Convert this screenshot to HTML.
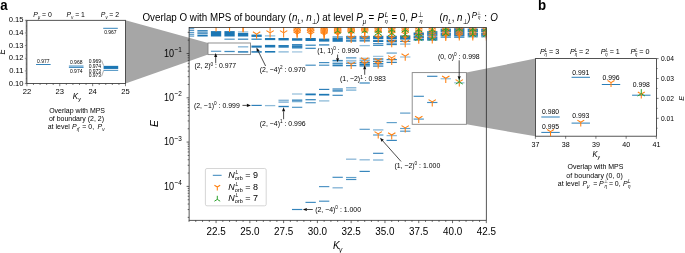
<!DOCTYPE html><html><head><meta charset="utf-8"><style>html,body{margin:0;padding:0;background:#fff}svg{display:block}</style></head><body><svg width="685" height="253" viewBox="0 0 685 253" font-family="Liberation Sans, sans-serif" fill="#000">
<rect width="685" height="253" fill="#fff"/>
<defs><filter id="soft" x="0" y="0" width="685" height="253" filterUnits="userSpaceOnUse"><feGaussianBlur stdDeviation="0.3"/></filter></defs>
<g filter="url(#soft)">
<polygon points="125.5,20.3 208.0,43.0 208.0,54.6 125.5,83.6" fill="#a6a6a6"/>
<polygon points="466.4,72.6 535.4,58.6 535.4,136.2 466.4,124.3" fill="#a6a6a6"/>
<defs><clipPath id="cm"><rect x="189.1" y="27.4" width="297.20000000000005" height="192.9"/></clipPath></defs>
<g clip-path="url(#cm)">
<rect x="183.87" y="28.12" width="10.3" height="1.15" fill="#1f77b4" opacity="0.75"/>
<rect x="183.87" y="29.93" width="10.3" height="1.15" fill="#1f77b4" opacity="0.75"/>
<rect x="183.87" y="31.93" width="10.3" height="1.15" fill="#1f77b4" opacity="0.75"/>
<rect x="183.87" y="33.72" width="10.3" height="1.15" fill="#1f77b4" opacity="0.75"/>
<rect x="183.87" y="35.52" width="10.3" height="1.15" fill="#1f77b4" opacity="0.75"/>
<rect x="197.39" y="30.15" width="10.3" height="1.3" fill="#1f77b4" opacity="1.0"/>
<rect x="197.39" y="32.45" width="10.3" height="1.3" fill="#1f77b4" opacity="1.0"/>
<rect x="197.39" y="34.90" width="10.3" height="1.6" fill="#1f77b4" opacity="1.0"/>
<rect x="197.39" y="31.38" width="10.3" height="1.25" fill="#1f77b4" opacity="0.3"/>
<rect x="197.39" y="33.77" width="10.3" height="1.25" fill="#1f77b4" opacity="0.3"/>
<rect x="210.90" y="31.10" width="10.3" height="5.399999999999999" fill="#1f77b4" opacity="1.0"/>
<rect x="224.41" y="31.10" width="10.3" height="5.399999999999999" fill="#1f77b4" opacity="1.0"/>
<rect x="224.41" y="38.58" width="10.3" height="1.25" fill="#1f77b4" opacity="0.75"/>
<rect x="237.93" y="31.32" width="10.3" height="1.15" fill="#1f77b4" opacity="0.5"/>
<rect x="237.93" y="32.90" width="10.3" height="3.6000000000000014" fill="#1f77b4" opacity="1.0"/>
<rect x="237.93" y="38.58" width="10.3" height="1.25" fill="#1f77b4" opacity="0.9"/>
<rect x="251.44" y="34.60" width="10.3" height="2.299999999999997" fill="#1f77b4" opacity="1.0"/>
<rect x="251.44" y="38.53" width="10.3" height="1.35" fill="#1f77b4" opacity="0.85"/>
<rect x="264.95" y="35.27" width="10.3" height="1.25" fill="#1f77b4" opacity="0.5"/>
<rect x="264.95" y="38.00" width="10.3" height="2.1000000000000014" fill="#1f77b4" opacity="1.0"/>
<rect x="278.47" y="38.00" width="10.3" height="2.3999999999999986" fill="#1f77b4" opacity="1.0"/>
<rect x="291.98" y="38.20" width="10.3" height="2.5" fill="#1f77b4" opacity="1.0"/>
<rect x="305.49" y="38.00" width="10.3" height="3.0" fill="#1f77b4" opacity="1.0"/>
<rect x="319.00" y="38.60" width="10.3" height="3.0" fill="#1f77b4" opacity="1.0"/>
<rect x="332.52" y="36.00" width="10.3" height="2.0" fill="#1f77b4" opacity="0.55"/>
<rect x="332.52" y="38.00" width="10.3" height="3.799999999999997" fill="#1f77b4" opacity="1.0"/>
<rect x="346.03" y="35.90" width="10.3" height="3.549999999999997" fill="#1f77b4" opacity="0.85"/>
<rect x="346.03" y="39.95" width="10.3" height="1.8500000000000014" fill="#1f77b4" opacity="0.85"/>
<rect x="359.54" y="35.90" width="10.3" height="3.549999999999997" fill="#1f77b4" opacity="0.85"/>
<rect x="359.54" y="39.95" width="10.3" height="1.6500000000000057" fill="#1f77b4" opacity="0.85"/>
<rect x="359.54" y="44.98" width="10.3" height="1.25" fill="#1f77b4" opacity="0.5"/>
<rect x="373.06" y="35.80" width="10.3" height="3.4000000000000057" fill="#1f77b4" opacity="1.0"/>
<rect x="373.06" y="40.10" width="10.3" height="1.8999999999999986" fill="#1f77b4" opacity="1.0"/>
<rect x="373.06" y="43.12" width="10.3" height="1.15" fill="#1f77b4" opacity="0.9"/>
<rect x="373.06" y="44.82" width="10.3" height="1.15" fill="#1f77b4" opacity="0.85"/>
<rect x="386.57" y="35.80" width="10.3" height="3.3000000000000043" fill="#1f77b4" opacity="1.0"/>
<rect x="386.57" y="39.70" width="10.3" height="2.299999999999997" fill="#1f77b4" opacity="1.0"/>
<rect x="386.57" y="42.58" width="10.3" height="1.05" fill="#1f77b4" opacity="0.8"/>
<rect x="386.57" y="43.88" width="10.3" height="1.25" fill="#1f77b4" opacity="0.9"/>
<rect x="400.08" y="35.40" width="10.3" height="4.200000000000003" fill="#1f77b4" opacity="1.0"/>
<rect x="400.08" y="40.77" width="10.3" height="1.25" fill="#1f77b4" opacity="0.9"/>
<rect x="400.08" y="43.35" width="10.3" height="1.5" fill="#1f77b4" opacity="0.45"/>
<rect x="413.60" y="32.50" width="10.3" height="3.1000000000000014" fill="#1f77b4" opacity="1.0"/>
<rect x="413.60" y="36.10" width="10.3" height="1.8999999999999986" fill="#1f77b4" opacity="1.0"/>
<rect x="413.60" y="38.50" width="10.3" height="2.1000000000000014" fill="#1f77b4" opacity="1.0"/>
<rect x="427.11" y="31.10" width="10.3" height="4.799999999999997" fill="#1f77b4" opacity="0.9"/>
<rect x="427.11" y="36.40" width="10.3" height="4.300000000000004" fill="#1f77b4" opacity="0.9"/>
<rect x="440.62" y="28.60" width="10.3" height="3.549999999999997" fill="#1f77b4" opacity="0.95"/>
<rect x="440.62" y="32.65" width="10.3" height="3.25" fill="#1f77b4" opacity="0.95"/>
<rect x="440.62" y="36.40" width="10.3" height="1.3000000000000043" fill="#1f77b4" opacity="0.95"/>
<rect x="454.13" y="28.10" width="10.3" height="8.549999999999997" fill="#1f77b4" opacity="0.95"/>
<rect x="454.13" y="37.02" width="10.3" height="0.8000000000000043" fill="#1f77b4" opacity="0.95"/>
<rect x="467.65" y="28.60" width="10.3" height="3.549999999999997" fill="#1f77b4" opacity="0.95"/>
<rect x="467.65" y="32.65" width="10.3" height="3.25" fill="#1f77b4" opacity="0.95"/>
<rect x="467.65" y="36.27" width="10.3" height="1.0500000000000043" fill="#1f77b4" opacity="0.95"/>
<rect x="481.16" y="28.60" width="10.3" height="3.549999999999997" fill="#1f77b4" opacity="0.95"/>
<rect x="481.16" y="32.65" width="10.3" height="3.25" fill="#1f77b4" opacity="0.95"/>
<rect x="481.16" y="36.27" width="10.3" height="1.0500000000000043" fill="#1f77b4" opacity="0.95"/>
<rect x="210.90" y="50.67" width="10.3" height="1.25" fill="#1f77b4" opacity="0.7"/>
<rect x="224.41" y="50.88" width="10.3" height="1.25" fill="#1f77b4" opacity="0.85"/>
<rect x="237.93" y="46.00" width="10.3" height="1.6" fill="#1f77b4" opacity="0.45"/>
<rect x="237.93" y="51.15" width="10.3" height="1.5" fill="#1f77b4" opacity="0.95"/>
<rect x="251.44" y="45.55" width="10.3" height="2.1" fill="#1f77b4" opacity="1.0"/>
<rect x="251.44" y="51.10" width="10.3" height="1.6" fill="#1f77b4" opacity="0.95"/>
<rect x="264.95" y="44.90" width="10.3" height="2.6" fill="#1f77b4" opacity="1.0"/>
<rect x="264.95" y="51.00" width="10.3" height="1.6" fill="#1f77b4" opacity="1.0"/>
<rect x="278.47" y="45.00" width="10.3" height="2.7" fill="#1f77b4" opacity="0.95"/>
<rect x="278.47" y="51.27" width="10.3" height="1.25" fill="#1f77b4" opacity="0.55"/>
<rect x="291.98" y="44.12" width="10.3" height="1.35" fill="#1f77b4" opacity="0.95"/>
<rect x="291.98" y="45.62" width="10.3" height="1.35" fill="#1f77b4" opacity="0.95"/>
<rect x="291.98" y="47.12" width="10.3" height="1.35" fill="#1f77b4" opacity="0.95"/>
<rect x="291.98" y="44.50" width="10.3" height="3.6" fill="#1f77b4" opacity="0.35"/>
<rect x="291.98" y="51.23" width="10.3" height="1.35" fill="#1f77b4" opacity="0.4"/>
<rect x="305.49" y="44.62" width="10.3" height="1.15" fill="#1f77b4" opacity="0.95"/>
<rect x="305.49" y="47.72" width="10.3" height="1.15" fill="#1f77b4" opacity="0.95"/>
<rect x="319.00" y="44.15" width="10.3" height="1.5" fill="#1f77b4" opacity="0.8"/>
<rect x="305.49" y="64.62" width="10.3" height="1.15" fill="#1f77b4" opacity="0.85"/>
<rect x="319.00" y="62.02" width="10.3" height="1.15" fill="#1f77b4" opacity="0.85"/>
<rect x="319.00" y="64.62" width="10.3" height="1.15" fill="#1f77b4" opacity="0.85"/>
<rect x="332.52" y="59.92" width="10.3" height="1.15" fill="#1f77b4" opacity="0.9"/>
<rect x="332.52" y="61.38" width="10.3" height="1.25" fill="#1f77b4" opacity="0.5"/>
<rect x="332.52" y="63.08" width="10.3" height="1.25" fill="#1f77b4" opacity="0.9"/>
<rect x="332.52" y="64.70" width="10.3" height="1.6" fill="#1f77b4" opacity="0.95"/>
<rect x="346.03" y="57.32" width="10.3" height="1.15" fill="#1f77b4" opacity="0.85"/>
<rect x="346.03" y="59.90" width="10.3" height="1.8" fill="#1f77b4" opacity="0.45"/>
<rect x="346.03" y="62.58" width="10.3" height="1.25" fill="#1f77b4" opacity="0.9"/>
<rect x="346.03" y="64.97" width="10.3" height="1.25" fill="#1f77b4" opacity="0.9"/>
<rect x="359.54" y="57.70" width="10.3" height="1.8" fill="#1f77b4" opacity="0.45"/>
<rect x="359.54" y="59.90" width="10.3" height="1.4" fill="#1f77b4" opacity="0.6"/>
<rect x="359.54" y="61.90" width="10.3" height="1.4" fill="#1f77b4" opacity="1.0"/>
<rect x="359.54" y="63.60" width="10.3" height="1.4" fill="#1f77b4" opacity="1.0"/>
<rect x="359.54" y="65.25" width="10.3" height="1.3" fill="#1f77b4" opacity="1.0"/>
<rect x="373.06" y="55.77" width="10.3" height="1.25" fill="#1f77b4" opacity="0.45"/>
<rect x="373.06" y="58.33" width="10.3" height="1.35" fill="#1f77b4" opacity="1.0"/>
<rect x="373.06" y="60.73" width="10.3" height="1.35" fill="#1f77b4" opacity="1.0"/>
<rect x="373.06" y="63.12" width="10.3" height="1.35" fill="#1f77b4" opacity="1.0"/>
<rect x="373.06" y="65.42" width="10.3" height="1.35" fill="#1f77b4" opacity="0.85"/>
<rect x="386.57" y="52.25" width="10.3" height="1.7" fill="#1f77b4" opacity="0.5"/>
<rect x="386.57" y="58.98" width="10.3" height="1.25" fill="#1f77b4" opacity="0.9"/>
<rect x="386.57" y="61.77" width="10.3" height="1.25" fill="#1f77b4" opacity="0.9"/>
<rect x="400.08" y="56.38" width="10.3" height="1.25" fill="#1f77b4" opacity="0.45"/>
<rect x="251.44" y="104.83" width="10.3" height="1.15" fill="#1f77b4" opacity="0.95"/>
<rect x="264.95" y="104.97" width="10.3" height="1.25" fill="#1f77b4" opacity="0.5"/>
<rect x="278.47" y="99.62" width="10.3" height="1.35" fill="#1f77b4" opacity="0.55"/>
<rect x="278.47" y="101.42" width="10.3" height="1.35" fill="#1f77b4" opacity="0.6"/>
<rect x="278.47" y="105.83" width="10.3" height="1.35" fill="#1f77b4" opacity="0.95"/>
<rect x="291.98" y="93.35" width="10.3" height="1.3" fill="#1f77b4" opacity="0.45"/>
<rect x="291.98" y="99.45" width="10.3" height="1.5" fill="#1f77b4" opacity="0.8"/>
<rect x="291.98" y="100.95" width="10.3" height="1.3" fill="#1f77b4" opacity="0.6"/>
<rect x="291.98" y="106.72" width="10.3" height="1.15" fill="#1f77b4" opacity="0.8"/>
<rect x="305.49" y="93.50" width="10.3" height="1.8" fill="#1f77b4" opacity="1.0"/>
<rect x="305.49" y="99.08" width="10.3" height="1.25" fill="#1f77b4" opacity="0.9"/>
<rect x="305.49" y="102.08" width="10.3" height="1.25" fill="#1f77b4" opacity="0.75"/>
<rect x="319.00" y="88.83" width="10.3" height="1.15" fill="#1f77b4" opacity="0.95"/>
<rect x="319.00" y="93.85" width="10.3" height="1.7" fill="#1f77b4" opacity="1.0"/>
<rect x="319.00" y="100.25" width="10.3" height="1.3" fill="#1f77b4" opacity="0.5"/>
<rect x="332.52" y="88.08" width="10.3" height="1.45" fill="#1f77b4" opacity="0.6"/>
<rect x="332.52" y="89.48" width="10.3" height="1.45" fill="#1f77b4" opacity="0.75"/>
<rect x="332.52" y="90.78" width="10.3" height="1.25" fill="#1f77b4" opacity="0.6"/>
<rect x="332.52" y="94.72" width="10.3" height="1.15" fill="#1f77b4" opacity="0.9"/>
<rect x="346.03" y="87.17" width="10.3" height="1.25" fill="#1f77b4" opacity="0.6"/>
<rect x="346.03" y="89.47" width="10.3" height="1.25" fill="#1f77b4" opacity="0.6"/>
<rect x="359.54" y="82.42" width="10.3" height="1.15" fill="#1f77b4" opacity="0.95"/>
<rect x="291.98" y="208.93" width="10.3" height="1.15" fill="#1f77b4" opacity="0.9"/>
<rect x="305.49" y="201.83" width="10.3" height="1.15" fill="#1f77b4" opacity="0.85"/>
<rect x="319.00" y="200.62" width="10.3" height="1.15" fill="#1f77b4" opacity="0.85"/>
<rect x="319.00" y="186.03" width="10.3" height="1.15" fill="#1f77b4" opacity="0.8"/>
<rect x="332.52" y="176.73" width="10.3" height="1.15" fill="#1f77b4" opacity="0.85"/>
<rect x="332.52" y="187.12" width="10.3" height="1.35" fill="#1f77b4" opacity="0.55"/>
<rect x="346.03" y="176.93" width="10.3" height="1.15" fill="#1f77b4" opacity="0.7"/>
<rect x="346.03" y="178.93" width="10.3" height="1.15" fill="#1f77b4" opacity="0.85"/>
<rect x="346.03" y="158.52" width="10.3" height="1.35" fill="#1f77b4" opacity="0.5"/>
<rect x="359.54" y="170.83" width="10.3" height="1.15" fill="#1f77b4" opacity="0.9"/>
<rect x="359.54" y="159.12" width="10.3" height="1.35" fill="#1f77b4" opacity="0.5"/>
<rect x="359.54" y="128.73" width="10.3" height="1.15" fill="#1f77b4" opacity="0.75"/>
<rect x="373.06" y="152.73" width="10.3" height="1.15" fill="#1f77b4" opacity="0.9"/>
<rect x="373.06" y="159.28" width="10.3" height="1.45" fill="#1f77b4" opacity="0.5"/>
<rect x="373.06" y="129.28" width="10.3" height="1.25" fill="#1f77b4" opacity="0.55"/>
<rect x="373.06" y="134.43" width="10.3" height="1.15" fill="#1f77b4" opacity="0.75"/>
<rect x="386.57" y="122.02" width="10.3" height="1.15" fill="#1f77b4" opacity="0.7"/>
<rect x="386.57" y="134.97" width="10.3" height="1.25" fill="#1f77b4" opacity="0.5"/>
<rect x="386.57" y="139.83" width="10.3" height="1.15" fill="#1f77b4" opacity="0.9"/>
<rect x="400.08" y="112.52" width="10.3" height="1.15" fill="#1f77b4" opacity="0.75"/>
<rect x="400.08" y="127.92" width="10.3" height="1.15" fill="#1f77b4" opacity="0.7"/>
<rect x="400.08" y="130.62" width="10.3" height="1.15" fill="#1f77b4" opacity="0.8"/>
<rect x="413.60" y="95.72" width="10.3" height="1.15" fill="#1f77b4" opacity="0.85"/>
<rect x="413.60" y="118.52" width="10.3" height="1.15" fill="#1f77b4" opacity="0.8"/>
<rect x="427.11" y="75.72" width="10.3" height="1.15" fill="#1f77b4" opacity="0.9"/>
<rect x="427.11" y="101.92" width="10.3" height="1.15" fill="#1f77b4" opacity="0.85"/>
<rect x="440.62" y="78.08" width="10.3" height="1.25" fill="#1f77b4" opacity="0.45"/>
<rect x="454.13" y="82.17" width="10.3" height="1.25" fill="#1f77b4" opacity="0.45"/>
<path d="M216.05,27.00L216.05,31.60M216.05,27.00L219.73,24.70M216.05,27.00L212.37,24.70" stroke="#ff7f0e" stroke-width="1.05" fill="none" opacity="1.0"/>
<path d="M229.56,27.50L229.56,32.10M229.56,27.50L233.24,25.20M229.56,27.50L225.88,25.20" stroke="#ff7f0e" stroke-width="1.05" fill="none" opacity="1.0"/>
<path d="M243.08,27.60L243.08,32.20M243.08,27.60L246.76,25.30M243.08,27.60L239.40,25.30" stroke="#ff7f0e" stroke-width="1.05" fill="none" opacity="1.0"/>
<path d="M243.08,27.20L243.08,31.80M243.08,27.20L246.76,24.90M243.08,27.20L239.40,24.90" stroke="#ff7f0e" stroke-width="1.05" fill="none" opacity="1.0"/>
<path d="M256.59,34.10L256.59,38.70M256.59,34.10L260.27,31.80M256.59,34.10L252.91,31.80" stroke="#ff7f0e" stroke-width="1.05" fill="none" opacity="1.0"/>
<path d="M270.10,32.90L270.10,37.50M270.10,32.90L273.78,30.60M270.10,32.90L266.42,30.60" stroke="#ff7f0e" stroke-width="1.05" fill="none" opacity="1.0"/>
<path d="M270.10,27.20L270.10,31.80M270.10,27.20L273.78,24.90M270.10,27.20L266.42,24.90" stroke="#ff7f0e" stroke-width="1.05" fill="none" opacity="1.0"/>
<path d="M283.62,32.90L283.62,37.50M283.62,32.90L287.30,30.60M283.62,32.90L279.94,30.60" stroke="#ff7f0e" stroke-width="1.05" fill="none" opacity="1.0"/>
<path d="M283.62,27.30L283.62,31.90M283.62,27.30L287.30,25.00M283.62,27.30L279.94,25.00" stroke="#ff7f0e" stroke-width="1.05" fill="none" opacity="1.0"/>
<path d="M297.13,28.00L297.13,32.60M297.13,28.00L300.81,25.70M297.13,28.00L293.45,25.70" stroke="#ff7f0e" stroke-width="1.05" fill="none" opacity="1.0"/>
<path d="M297.13,29.50L297.13,34.10M297.13,29.50L300.81,27.20M297.13,29.50L293.45,27.20" stroke="#ff7f0e" stroke-width="1.05" fill="none" opacity="1.0"/>
<path d="M297.13,31.00L297.13,35.60M297.13,31.00L300.81,28.70M297.13,31.00L293.45,28.70" stroke="#ff7f0e" stroke-width="1.05" fill="none" opacity="1.0"/>
<path d="M297.13,32.50L297.13,37.10M297.13,32.50L300.81,30.20M297.13,32.50L293.45,30.20" stroke="#ff7f0e" stroke-width="1.05" fill="none" opacity="1.0"/>
<path d="M297.13,34.00L297.13,38.60M297.13,34.00L300.81,31.70M297.13,34.00L293.45,31.70" stroke="#ff7f0e" stroke-width="1.05" fill="none" opacity="1.0"/>
<path d="M310.64,28.00L310.64,32.60M310.64,28.00L314.32,25.70M310.64,28.00L306.96,25.70" stroke="#ff7f0e" stroke-width="1.05" fill="none" opacity="1.0"/>
<path d="M310.64,29.50L310.64,34.10M310.64,29.50L314.32,27.20M310.64,29.50L306.96,27.20" stroke="#ff7f0e" stroke-width="1.05" fill="none" opacity="1.0"/>
<path d="M310.64,31.00L310.64,35.60M310.64,31.00L314.32,28.70M310.64,31.00L306.96,28.70" stroke="#ff7f0e" stroke-width="1.05" fill="none" opacity="1.0"/>
<path d="M310.64,32.50L310.64,37.10M310.64,32.50L314.32,30.20M310.64,32.50L306.96,30.20" stroke="#ff7f0e" stroke-width="1.05" fill="none" opacity="1.0"/>
<path d="M310.64,34.20L310.64,38.80M310.64,34.20L314.32,31.90M310.64,34.20L306.96,31.90" stroke="#ff7f0e" stroke-width="1.05" fill="none" opacity="1.0"/>
<path d="M324.15,27.80L324.15,32.40M324.15,27.80L327.83,25.50M324.15,27.80L320.47,25.50" stroke="#ff7f0e" stroke-width="1.05" fill="none" opacity="1.0"/>
<path d="M324.15,29.00L324.15,33.60M324.15,29.00L327.83,26.70M324.15,29.00L320.47,26.70" stroke="#ff7f0e" stroke-width="1.05" fill="none" opacity="1.0"/>
<path d="M324.15,30.20L324.15,34.80M324.15,30.20L327.83,27.90M324.15,30.20L320.47,27.90" stroke="#ff7f0e" stroke-width="1.05" fill="none" opacity="1.0"/>
<path d="M324.15,31.40L324.15,36.00M324.15,31.40L327.83,29.10M324.15,31.40L320.47,29.10" stroke="#ff7f0e" stroke-width="1.05" fill="none" opacity="1.0"/>
<path d="M324.15,32.60L324.15,37.20M324.15,32.60L327.83,30.30M324.15,32.60L320.47,30.30" stroke="#ff7f0e" stroke-width="1.05" fill="none" opacity="1.0"/>
<path d="M324.15,33.80L324.15,38.40M324.15,33.80L327.83,31.50M324.15,33.80L320.47,31.50" stroke="#ff7f0e" stroke-width="1.05" fill="none" opacity="1.0"/>
<path d="M324.15,34.90L324.15,39.50M324.15,34.90L327.83,32.60M324.15,34.90L320.47,32.60" stroke="#ff7f0e" stroke-width="1.05" fill="none" opacity="1.0"/>
<path d="M337.67,27.80L337.67,32.40M337.67,27.80L341.35,25.50M337.67,27.80L333.99,25.50" stroke="#ff7f0e" stroke-width="1.05" fill="none" opacity="1.0"/>
<path d="M337.67,29.00L337.67,33.60M337.67,29.00L341.35,26.70M337.67,29.00L333.99,26.70" stroke="#ff7f0e" stroke-width="1.05" fill="none" opacity="1.0"/>
<path d="M337.67,30.20L337.67,34.80M337.67,30.20L341.35,27.90M337.67,30.20L333.99,27.90" stroke="#ff7f0e" stroke-width="1.05" fill="none" opacity="1.0"/>
<path d="M337.67,31.40L337.67,36.00M337.67,31.40L341.35,29.10M337.67,31.40L333.99,29.10" stroke="#ff7f0e" stroke-width="1.05" fill="none" opacity="1.0"/>
<path d="M337.67,32.60L337.67,37.20M337.67,32.60L341.35,30.30M337.67,32.60L333.99,30.30" stroke="#ff7f0e" stroke-width="1.05" fill="none" opacity="1.0"/>
<path d="M337.67,33.80L337.67,38.40M337.67,33.80L341.35,31.50M337.67,33.80L333.99,31.50" stroke="#ff7f0e" stroke-width="1.05" fill="none" opacity="1.0"/>
<path d="M337.67,34.70L337.67,39.30M337.67,34.70L341.35,32.40M337.67,34.70L333.99,32.40" stroke="#ff7f0e" stroke-width="1.05" fill="none" opacity="1.0"/>
<path d="M351.18,27.80L351.18,32.40M351.18,27.80L354.86,25.50M351.18,27.80L347.50,25.50" stroke="#ff7f0e" stroke-width="1.05" fill="none" opacity="1.0"/>
<path d="M351.18,29.00L351.18,33.60M351.18,29.00L354.86,26.70M351.18,29.00L347.50,26.70" stroke="#ff7f0e" stroke-width="1.05" fill="none" opacity="1.0"/>
<path d="M351.18,30.20L351.18,34.80M351.18,30.20L354.86,27.90M351.18,30.20L347.50,27.90" stroke="#ff7f0e" stroke-width="1.05" fill="none" opacity="1.0"/>
<path d="M351.18,31.40L351.18,36.00M351.18,31.40L354.86,29.10M351.18,31.40L347.50,29.10" stroke="#ff7f0e" stroke-width="1.05" fill="none" opacity="1.0"/>
<path d="M351.18,32.60L351.18,37.20M351.18,32.60L354.86,30.30M351.18,32.60L347.50,30.30" stroke="#ff7f0e" stroke-width="1.05" fill="none" opacity="1.0"/>
<path d="M351.18,33.80L351.18,38.40M351.18,33.80L354.86,31.50M351.18,33.80L347.50,31.50" stroke="#ff7f0e" stroke-width="1.05" fill="none" opacity="1.0"/>
<path d="M351.18,38.30L351.18,42.90M351.18,38.30L354.86,36.00M351.18,38.30L347.50,36.00" stroke="#ff7f0e" stroke-width="1.05" fill="none" opacity="1.0"/>
<path d="M364.69,27.80L364.69,32.40M364.69,27.80L368.37,25.50M364.69,27.80L361.01,25.50" stroke="#ff7f0e" stroke-width="1.05" fill="none" opacity="1.0"/>
<path d="M364.69,29.00L364.69,33.60M364.69,29.00L368.37,26.70M364.69,29.00L361.01,26.70" stroke="#ff7f0e" stroke-width="1.05" fill="none" opacity="1.0"/>
<path d="M364.69,30.20L364.69,34.80M364.69,30.20L368.37,27.90M364.69,30.20L361.01,27.90" stroke="#ff7f0e" stroke-width="1.05" fill="none" opacity="1.0"/>
<path d="M364.69,31.40L364.69,36.00M364.69,31.40L368.37,29.10M364.69,31.40L361.01,29.10" stroke="#ff7f0e" stroke-width="1.05" fill="none" opacity="1.0"/>
<path d="M364.69,32.80L364.69,37.40M364.69,32.80L368.37,30.50M364.69,32.80L361.01,30.50" stroke="#ff7f0e" stroke-width="1.05" fill="none" opacity="1.0"/>
<path d="M364.69,38.20L364.69,42.80M364.69,38.20L368.37,35.90M364.69,38.20L361.01,35.90" stroke="#ff7f0e" stroke-width="1.05" fill="none" opacity="1.0"/>
<path d="M378.21,27.80L378.21,32.40M378.21,27.80L381.89,25.50M378.21,27.80L374.53,25.50" stroke="#ff7f0e" stroke-width="1.05" fill="none" opacity="1.0"/>
<path d="M378.21,29.20L378.21,33.80M378.21,29.20L381.89,26.90M378.21,29.20L374.53,26.90" stroke="#ff7f0e" stroke-width="1.05" fill="none" opacity="1.0"/>
<path d="M378.21,30.60L378.21,35.20M378.21,30.60L381.89,28.30M378.21,30.60L374.53,28.30" stroke="#ff7f0e" stroke-width="1.05" fill="none" opacity="1.0"/>
<path d="M378.21,32.00L378.21,36.60M378.21,32.00L381.89,29.70M378.21,32.00L374.53,29.70" stroke="#ff7f0e" stroke-width="1.05" fill="none" opacity="1.0"/>
<path d="M378.21,33.60L378.21,38.20M378.21,33.60L381.89,31.30M378.21,33.60L374.53,31.30" stroke="#ff7f0e" stroke-width="1.05" fill="none" opacity="1.0"/>
<path d="M378.21,37.80L378.21,42.40M378.21,37.80L381.89,35.50M378.21,37.80L374.53,35.50" stroke="#ff7f0e" stroke-width="1.05" fill="none" opacity="1.0"/>
<path d="M391.72,27.80L391.72,32.40M391.72,27.80L395.40,25.50M391.72,27.80L388.04,25.50" stroke="#ff7f0e" stroke-width="1.05" fill="none" opacity="1.0"/>
<path d="M391.72,29.20L391.72,33.80M391.72,29.20L395.40,26.90M391.72,29.20L388.04,26.90" stroke="#ff7f0e" stroke-width="1.05" fill="none" opacity="1.0"/>
<path d="M391.72,30.60L391.72,35.20M391.72,30.60L395.40,28.30M391.72,30.60L388.04,28.30" stroke="#ff7f0e" stroke-width="1.05" fill="none" opacity="1.0"/>
<path d="M391.72,32.20L391.72,36.80M391.72,32.20L395.40,29.90M391.72,32.20L388.04,29.90" stroke="#ff7f0e" stroke-width="1.05" fill="none" opacity="1.0"/>
<path d="M391.72,34.00L391.72,38.60M391.72,34.00L395.40,31.70M391.72,34.00L388.04,31.70" stroke="#ff7f0e" stroke-width="1.05" fill="none" opacity="1.0"/>
<path d="M391.72,38.10L391.72,42.70M391.72,38.10L395.40,35.80M391.72,38.10L388.04,35.80" stroke="#ff7f0e" stroke-width="1.05" fill="none" opacity="1.0"/>
<path d="M391.72,42.60L391.72,47.20M391.72,42.60L395.40,40.30M391.72,42.60L388.04,40.30" stroke="#ff7f0e" stroke-width="1.05" fill="none" opacity="1.0"/>
<path d="M405.23,27.80L405.23,32.40M405.23,27.80L408.91,25.50M405.23,27.80L401.55,25.50" stroke="#ff7f0e" stroke-width="1.05" fill="none" opacity="1.0"/>
<path d="M405.23,29.20L405.23,33.80M405.23,29.20L408.91,26.90M405.23,29.20L401.55,26.90" stroke="#ff7f0e" stroke-width="1.05" fill="none" opacity="1.0"/>
<path d="M405.23,30.80L405.23,35.40M405.23,30.80L408.91,28.50M405.23,30.80L401.55,28.50" stroke="#ff7f0e" stroke-width="1.05" fill="none" opacity="1.0"/>
<path d="M405.23,32.60L405.23,37.20M405.23,32.60L408.91,30.30M405.23,32.60L401.55,30.30" stroke="#ff7f0e" stroke-width="1.05" fill="none" opacity="1.0"/>
<path d="M405.23,34.40L405.23,39.00M405.23,34.40L408.91,32.10M405.23,34.40L401.55,32.10" stroke="#ff7f0e" stroke-width="1.05" fill="none" opacity="1.0"/>
<path d="M405.23,38.00L405.23,42.60M405.23,38.00L408.91,35.70M405.23,38.00L401.55,35.70" stroke="#ff7f0e" stroke-width="1.05" fill="none" opacity="1.0"/>
<path d="M405.23,42.60L405.23,47.20M405.23,42.60L408.91,40.30M405.23,42.60L401.55,40.30" stroke="#ff7f0e" stroke-width="1.05" fill="none" opacity="1.0"/>
<path d="M418.75,28.20L418.75,32.80M418.75,28.20L422.43,25.90M418.75,28.20L415.06,25.90" stroke="#ff7f0e" stroke-width="1.05" fill="none" opacity="1.0"/>
<path d="M418.75,30.00L418.75,34.60M418.75,30.00L422.43,27.70M418.75,30.00L415.06,27.70" stroke="#ff7f0e" stroke-width="1.05" fill="none" opacity="1.0"/>
<path d="M418.75,32.00L418.75,36.60M418.75,32.00L422.43,29.70M418.75,32.00L415.06,29.70" stroke="#ff7f0e" stroke-width="1.05" fill="none" opacity="1.0"/>
<path d="M418.75,34.20L418.75,38.80M418.75,34.20L422.43,31.90M418.75,34.20L415.06,31.90" stroke="#ff7f0e" stroke-width="1.05" fill="none" opacity="1.0"/>
<path d="M418.75,36.40L418.75,41.00M418.75,36.40L422.43,34.10M418.75,36.40L415.06,34.10" stroke="#ff7f0e" stroke-width="1.05" fill="none" opacity="1.0"/>
<path d="M418.75,39.20L418.75,43.80M418.75,39.20L422.43,36.90M418.75,39.20L415.06,36.90" stroke="#ff7f0e" stroke-width="1.05" fill="none" opacity="1.0"/>
<path d="M432.26,28.20L432.26,32.80M432.26,28.20L435.94,25.90M432.26,28.20L428.58,25.90" stroke="#ff7f0e" stroke-width="1.05" fill="none" opacity="1.0"/>
<path d="M432.26,30.00L432.26,34.60M432.26,30.00L435.94,27.70M432.26,30.00L428.58,27.70" stroke="#ff7f0e" stroke-width="1.05" fill="none" opacity="1.0"/>
<path d="M432.26,32.00L432.26,36.60M432.26,32.00L435.94,29.70M432.26,32.00L428.58,29.70" stroke="#ff7f0e" stroke-width="1.05" fill="none" opacity="1.0"/>
<path d="M432.26,34.20L432.26,38.80M432.26,34.20L435.94,31.90M432.26,34.20L428.58,31.90" stroke="#ff7f0e" stroke-width="1.05" fill="none" opacity="1.0"/>
<path d="M432.26,36.40L432.26,41.00M432.26,36.40L435.94,34.10M432.26,36.40L428.58,34.10" stroke="#ff7f0e" stroke-width="1.05" fill="none" opacity="1.0"/>
<path d="M432.26,38.80L432.26,43.40M432.26,38.80L435.94,36.50M432.26,38.80L428.58,36.50" stroke="#ff7f0e" stroke-width="1.05" fill="none" opacity="1.0"/>
<path d="M445.77,29.80L445.77,34.40M445.77,29.80L449.45,27.50M445.77,29.80L442.09,27.50" stroke="#ff7f0e" stroke-width="1.05" fill="none" opacity="1.0"/>
<path d="M445.77,31.60L445.77,36.20M445.77,31.60L449.45,29.30M445.77,31.60L442.09,29.30" stroke="#ff7f0e" stroke-width="1.05" fill="none" opacity="1.0"/>
<path d="M445.77,33.40L445.77,38.00M445.77,33.40L449.45,31.10M445.77,33.40L442.09,31.10" stroke="#ff7f0e" stroke-width="1.05" fill="none" opacity="1.0"/>
<path d="M445.77,35.00L445.77,39.60M445.77,35.00L449.45,32.70M445.77,35.00L442.09,32.70" stroke="#ff7f0e" stroke-width="1.05" fill="none" opacity="1.0"/>
<path d="M445.77,36.40L445.77,41.00M445.77,36.40L449.45,34.10M445.77,36.40L442.09,34.10" stroke="#ff7f0e" stroke-width="1.05" fill="none" opacity="1.0"/>
<path d="M459.28,28.80L459.28,33.40M459.28,28.80L462.96,26.50M459.28,28.80L455.60,26.50" stroke="#ff7f0e" stroke-width="1.05" fill="none" opacity="1.0"/>
<path d="M459.28,30.60L459.28,35.20M459.28,30.60L462.96,28.30M459.28,30.60L455.60,28.30" stroke="#ff7f0e" stroke-width="1.05" fill="none" opacity="1.0"/>
<path d="M459.28,32.40L459.28,37.00M459.28,32.40L462.96,30.10M459.28,32.40L455.60,30.10" stroke="#ff7f0e" stroke-width="1.05" fill="none" opacity="1.0"/>
<path d="M459.28,34.20L459.28,38.80M459.28,34.20L462.96,31.90M459.28,34.20L455.60,31.90" stroke="#ff7f0e" stroke-width="1.05" fill="none" opacity="1.0"/>
<path d="M459.28,36.00L459.28,40.60M459.28,36.00L462.96,33.70M459.28,36.00L455.60,33.70" stroke="#ff7f0e" stroke-width="1.05" fill="none" opacity="1.0"/>
<path d="M472.80,28.80L472.80,33.40M472.80,28.80L476.48,26.50M472.80,28.80L469.12,26.50" stroke="#ff7f0e" stroke-width="1.05" fill="none" opacity="1.0"/>
<path d="M472.80,30.60L472.80,35.20M472.80,30.60L476.48,28.30M472.80,30.60L469.12,28.30" stroke="#ff7f0e" stroke-width="1.05" fill="none" opacity="1.0"/>
<path d="M472.80,32.40L472.80,37.00M472.80,32.40L476.48,30.10M472.80,32.40L469.12,30.10" stroke="#ff7f0e" stroke-width="1.05" fill="none" opacity="1.0"/>
<path d="M472.80,34.20L472.80,38.80M472.80,34.20L476.48,31.90M472.80,34.20L469.12,31.90" stroke="#ff7f0e" stroke-width="1.05" fill="none" opacity="1.0"/>
<path d="M472.80,36.00L472.80,40.60M472.80,36.00L476.48,33.70M472.80,36.00L469.12,33.70" stroke="#ff7f0e" stroke-width="1.05" fill="none" opacity="1.0"/>
<path d="M486.31,28.80L486.31,33.40M486.31,28.80L489.99,26.50M486.31,28.80L482.63,26.50" stroke="#ff7f0e" stroke-width="1.05" fill="none" opacity="1.0"/>
<path d="M486.31,30.60L486.31,35.20M486.31,30.60L489.99,28.30M486.31,30.60L482.63,28.30" stroke="#ff7f0e" stroke-width="1.05" fill="none" opacity="1.0"/>
<path d="M486.31,32.40L486.31,37.00M486.31,32.40L489.99,30.10M486.31,32.40L482.63,30.10" stroke="#ff7f0e" stroke-width="1.05" fill="none" opacity="1.0"/>
<path d="M486.31,34.20L486.31,38.80M486.31,34.20L489.99,31.90M486.31,34.20L482.63,31.90" stroke="#ff7f0e" stroke-width="1.05" fill="none" opacity="1.0"/>
<path d="M486.31,36.00L486.31,40.60M486.31,36.00L489.99,33.70M486.31,36.00L482.63,33.70" stroke="#ff7f0e" stroke-width="1.05" fill="none" opacity="1.0"/>
<path d="M351.18,64.40L351.18,69.00M351.18,64.40L354.86,62.10M351.18,64.40L347.50,62.10" stroke="#ff7f0e" stroke-width="1.05" fill="none" opacity="1.0"/>
<path d="M364.69,60.00L364.69,64.60M364.69,60.00L368.37,57.70M364.69,60.00L361.01,57.70" stroke="#ff7f0e" stroke-width="1.05" fill="none" opacity="1.0"/>
<path d="M364.69,63.60L364.69,68.20M364.69,63.60L368.37,61.30M364.69,63.60L361.01,61.30" stroke="#ff7f0e" stroke-width="1.05" fill="none" opacity="1.0"/>
<path d="M378.21,60.80L378.21,65.40M378.21,60.80L381.89,58.50M378.21,60.80L374.53,58.50" stroke="#ff7f0e" stroke-width="1.05" fill="none" opacity="1.0"/>
<path d="M378.21,63.80L378.21,68.40M378.21,63.80L381.89,61.50M378.21,63.80L374.53,61.50" stroke="#ff7f0e" stroke-width="1.05" fill="none" opacity="1.0"/>
<path d="M391.72,57.90L391.72,62.50M391.72,57.90L395.40,55.60M391.72,57.90L388.04,55.60" stroke="#ff7f0e" stroke-width="1.05" fill="none" opacity="1.0"/>
<path d="M391.72,60.30L391.72,64.90M391.72,60.30L395.40,58.00M391.72,60.30L388.04,58.00" stroke="#ff7f0e" stroke-width="1.05" fill="none" opacity="1.0"/>
<path d="M405.23,56.10L405.23,60.70M405.23,56.10L408.91,53.80M405.23,56.10L401.55,53.80" stroke="#ff7f0e" stroke-width="1.05" fill="none" opacity="1.0"/>
<path d="M378.21,133.90L378.21,138.50M378.21,133.90L381.89,131.60M378.21,133.90L374.53,131.60" stroke="#ff7f0e" stroke-width="1.05" fill="none" opacity="1.0"/>
<path d="M391.72,135.00L391.72,139.60M391.72,135.00L395.40,132.70M391.72,135.00L388.04,132.70" stroke="#ff7f0e" stroke-width="1.05" fill="none" opacity="1.0"/>
<path d="M405.23,127.90L405.23,132.50M405.23,127.90L408.91,125.60M405.23,127.90L401.55,125.60" stroke="#ff7f0e" stroke-width="1.05" fill="none" opacity="1.0"/>
<path d="M418.75,118.50L418.75,123.10M418.75,118.50L422.43,116.20M418.75,118.50L415.06,116.20" stroke="#ff7f0e" stroke-width="1.05" fill="none" opacity="1.0"/>
<path d="M432.26,101.90L432.26,106.50M432.26,101.90L435.94,99.60M432.26,101.90L428.58,99.60" stroke="#ff7f0e" stroke-width="1.05" fill="none" opacity="1.0"/>
<path d="M445.77,78.30L445.77,82.90M445.77,78.30L449.45,76.00M445.77,78.30L442.09,76.00" stroke="#ff7f0e" stroke-width="1.05" fill="none" opacity="1.0"/>
<path d="M459.28,81.90L459.28,86.50M459.28,81.90L462.96,79.60M459.28,81.90L455.60,79.60" stroke="#ff7f0e" stroke-width="1.05" fill="none" opacity="1.0"/>
<path d="M391.72,27.6V33.6" stroke="#2ca02c" stroke-width="1.0" fill="none"/>
<path d="M405.23,27.6V34.8" stroke="#2ca02c" stroke-width="1.0" fill="none"/>
<path d="M418.75,27.6V38.4" stroke="#2ca02c" stroke-width="1.0" fill="none"/>
<path d="M432.26,27.6V38.2" stroke="#2ca02c" stroke-width="1.0" fill="none"/>
<path d="M445.77,27.6V33.6" stroke="#2ca02c" stroke-width="1.0" fill="none"/>
<path d="M459.28,27.6V31.5" stroke="#2ca02c" stroke-width="1.0" fill="none"/>
<path d="M472.80,27.6V34.6" stroke="#2ca02c" stroke-width="1.0" fill="none"/>
<path d="M486.31,27.6V34.6" stroke="#2ca02c" stroke-width="1.0" fill="none"/>
<path d="M337.67,31.20L337.67,27.30M337.67,31.20L340.79,33.15M337.67,31.20L334.55,33.15" stroke="#2ca02c" stroke-width="1.0" fill="none" opacity="1.0"/>
<path d="M351.18,31.20L351.18,27.30M351.18,31.20L354.30,33.15M351.18,31.20L348.06,33.15" stroke="#2ca02c" stroke-width="1.0" fill="none" opacity="1.0"/>
<path d="M364.69,31.00L364.69,27.10M364.69,31.00L367.81,32.95M364.69,31.00L361.57,32.95" stroke="#2ca02c" stroke-width="1.0" fill="none" opacity="1.0"/>
<path d="M378.21,30.40L378.21,26.00M378.21,30.40L381.73,32.60M378.21,30.40L374.69,32.60" stroke="#2ca02c" stroke-width="1.0" fill="none" opacity="1.0"/>
<path d="M378.21,33.00L378.21,28.60M378.21,33.00L381.73,35.20M378.21,33.00L374.69,35.20" stroke="#2ca02c" stroke-width="1.0" fill="none" opacity="1.0"/>
<path d="M391.72,29.80L391.72,25.40M391.72,29.80L395.24,32.00M391.72,29.80L388.20,32.00" stroke="#2ca02c" stroke-width="1.0" fill="none" opacity="1.0"/>
<path d="M391.72,33.60L391.72,29.20M391.72,33.60L395.24,35.80M391.72,33.60L388.20,35.80" stroke="#2ca02c" stroke-width="1.0" fill="none" opacity="1.0"/>
<path d="M405.23,29.80L405.23,25.40M405.23,29.80L408.75,32.00M405.23,29.80L401.71,32.00" stroke="#2ca02c" stroke-width="1.0" fill="none" opacity="1.0"/>
<path d="M405.23,34.80L405.23,30.40M405.23,34.80L408.75,37.00M405.23,34.80L401.71,37.00" stroke="#2ca02c" stroke-width="1.0" fill="none" opacity="1.0"/>
<path d="M418.75,29.80L418.75,25.40M418.75,29.80L422.26,32.00M418.75,29.80L415.23,32.00" stroke="#2ca02c" stroke-width="1.0" fill="none" opacity="1.0"/>
<path d="M418.75,34.00L418.75,29.60M418.75,34.00L422.26,36.20M418.75,34.00L415.23,36.20" stroke="#2ca02c" stroke-width="1.0" fill="none" opacity="1.0"/>
<path d="M418.75,38.40L418.75,34.00M418.75,38.40L422.26,40.60M418.75,38.40L415.23,40.60" stroke="#2ca02c" stroke-width="1.0" fill="none" opacity="1.0"/>
<path d="M432.26,30.00L432.26,25.60M432.26,30.00L435.78,32.20M432.26,30.00L428.74,32.20" stroke="#2ca02c" stroke-width="1.0" fill="none" opacity="1.0"/>
<path d="M432.26,38.20L432.26,33.80M432.26,38.20L435.78,40.40M432.26,38.20L428.74,40.40" stroke="#2ca02c" stroke-width="1.0" fill="none" opacity="1.0"/>
<path d="M445.77,28.60L445.77,24.20M445.77,28.60L449.29,30.80M445.77,28.60L442.25,30.80" stroke="#2ca02c" stroke-width="1.0" fill="none" opacity="1.0"/>
<path d="M445.77,33.60L445.77,29.20M445.77,33.60L449.29,35.80M445.77,33.60L442.25,35.80" stroke="#2ca02c" stroke-width="1.0" fill="none" opacity="1.0"/>
<path d="M459.28,28.80L459.28,24.40M459.28,28.80L462.80,31.00M459.28,28.80L455.76,31.00" stroke="#2ca02c" stroke-width="1.0" fill="none" opacity="1.0"/>
<path d="M472.80,29.00L472.80,24.60M472.80,29.00L476.32,31.20M472.80,29.00L469.28,31.20" stroke="#2ca02c" stroke-width="1.0" fill="none" opacity="1.0"/>
<path d="M472.80,34.60L472.80,30.20M472.80,34.60L476.32,36.80M472.80,34.60L469.28,36.80" stroke="#2ca02c" stroke-width="1.0" fill="none" opacity="1.0"/>
<path d="M486.31,29.00L486.31,24.60M486.31,29.00L489.83,31.20M486.31,29.00L482.79,31.20" stroke="#2ca02c" stroke-width="1.0" fill="none" opacity="1.0"/>
<path d="M486.31,34.60L486.31,30.20M486.31,34.60L489.83,36.80M486.31,34.60L482.79,36.80" stroke="#2ca02c" stroke-width="1.0" fill="none" opacity="1.0"/>
<path d="M459.28,81.90L459.28,77.50M459.28,81.90L462.80,84.10M459.28,81.90L455.76,84.10" stroke="#2ca02c" stroke-width="1.0" fill="none" opacity="1.0"/>
</g>
<rect x="208.0" y="43.0" width="42.5" height="11.600000000000001" fill="none" stroke="#858585" stroke-width="0.9"/>
<rect x="412.2" y="72.6" width="54.19999999999999" height="51.7" fill="none" stroke="#858585" stroke-width="0.9"/>
<rect x="189.1" y="27.4" width="297.20000000000005" height="192.9" fill="none" stroke="#2a2a2a" stroke-width="0.8"/>
<path d="M189.02,220.3v1.6M195.78,220.3v1.6M202.54,220.3v1.6M209.29,220.3v1.6M216.05,220.3v2.8M222.81,220.3v1.6M229.56,220.3v1.6M236.32,220.3v1.6M243.08,220.3v1.6M249.83,220.3v2.8M256.59,220.3v1.6M263.35,220.3v1.6M270.10,220.3v1.6M276.86,220.3v1.6M283.62,220.3v2.8M290.37,220.3v1.6M297.13,220.3v1.6M303.88,220.3v1.6M310.64,220.3v1.6M317.40,220.3v2.8M324.15,220.3v1.6M330.91,220.3v1.6M337.67,220.3v1.6M344.42,220.3v1.6M351.18,220.3v2.8M357.94,220.3v1.6M364.69,220.3v1.6M371.45,220.3v1.6M378.21,220.3v1.6M384.96,220.3v2.8M391.72,220.3v1.6M398.48,220.3v1.6M405.23,220.3v1.6M411.99,220.3v1.6M418.75,220.3v2.8M425.50,220.3v1.6M432.26,220.3v1.6M439.01,220.3v1.6M445.77,220.3v1.6M452.53,220.3v2.8M459.28,220.3v1.6M466.04,220.3v1.6M472.80,220.3v1.6M479.55,220.3v1.6M486.31,220.3v2.8M189.1,217.36h-1.4M189.1,209.56h-1.4M189.1,204.03h-1.4M189.1,199.74h-1.4M189.1,196.23h-1.4M189.1,193.26h-1.4M189.1,190.69h-1.4M189.1,188.43h-1.4M189.1,186.40h-2.5M189.1,173.06h-1.4M189.1,165.26h-1.4M189.1,159.73h-1.4M189.1,155.44h-1.4M189.1,151.93h-1.4M189.1,148.96h-1.4M189.1,146.39h-1.4M189.1,144.13h-1.4M189.1,142.10h-2.5M189.1,128.76h-1.4M189.1,120.96h-1.4M189.1,115.43h-1.4M189.1,111.14h-1.4M189.1,107.63h-1.4M189.1,104.66h-1.4M189.1,102.09h-1.4M189.1,99.83h-1.4M189.1,97.80h-2.5M189.1,84.46h-1.4M189.1,76.66h-1.4M189.1,71.13h-1.4M189.1,66.84h-1.4M189.1,63.33h-1.4M189.1,60.36h-1.4M189.1,57.79h-1.4M189.1,55.53h-1.4M189.1,53.50h-2.5M189.1,40.16h-1.4M189.1,32.36h-1.4" stroke="#2a2a2a" stroke-width="0.7" fill="none"/>
<g transform="translate(0,234.7) scale(1,1.1) translate(0,-234.7)"><text x="216.05" y="234.7" font-size="9.9" text-anchor="middle">22.5</text></g>
<g transform="translate(0,234.7) scale(1,1.1) translate(0,-234.7)"><text x="249.83" y="234.7" font-size="9.9" text-anchor="middle">25.0</text></g>
<g transform="translate(0,234.7) scale(1,1.1) translate(0,-234.7)"><text x="283.62" y="234.7" font-size="9.9" text-anchor="middle">27.5</text></g>
<g transform="translate(0,234.7) scale(1,1.1) translate(0,-234.7)"><text x="317.40" y="234.7" font-size="9.9" text-anchor="middle">30.0</text></g>
<g transform="translate(0,234.7) scale(1,1.1) translate(0,-234.7)"><text x="351.18" y="234.7" font-size="9.9" text-anchor="middle">32.5</text></g>
<g transform="translate(0,234.7) scale(1,1.1) translate(0,-234.7)"><text x="384.96" y="234.7" font-size="9.9" text-anchor="middle">35.0</text></g>
<g transform="translate(0,234.7) scale(1,1.1) translate(0,-234.7)"><text x="418.75" y="234.7" font-size="9.9" text-anchor="middle">37.5</text></g>
<g transform="translate(0,234.7) scale(1,1.1) translate(0,-234.7)"><text x="452.53" y="234.7" font-size="9.9" text-anchor="middle">40.0</text></g>
<g transform="translate(0,234.7) scale(1,1.1) translate(0,-234.7)"><text x="486.31" y="234.7" font-size="9.9" text-anchor="middle">42.5</text></g>
<g transform="translate(0,56.9) scale(1,1.22) translate(0,-56.9)"><text class="vs122" x="164.0" y="56.90" font-size="9.1">10<tspan dx="0.5" dy="-3.9" font-size="6.4">−1</tspan></text></g>
<g transform="translate(0,101.2) scale(1,1.22) translate(0,-101.2)"><text class="vs122" x="164.0" y="101.20" font-size="9.1">10<tspan dx="0.5" dy="-3.9" font-size="6.4">−2</tspan></text></g>
<g transform="translate(0,145.5) scale(1,1.22) translate(0,-145.5)"><text class="vs122" x="164.0" y="145.50" font-size="9.1">10<tspan dx="0.5" dy="-3.9" font-size="6.4">−3</tspan></text></g>
<g transform="translate(0,189.8) scale(1,1.22) translate(0,-189.8)"><text class="vs122" x="164.0" y="189.80" font-size="9.1">10<tspan dx="0.5" dy="-3.9" font-size="6.4">−4</tspan></text></g>
<g transform="translate(0,249.2) scale(1,1.1) translate(0,-249.2)"><text x="333.0" y="249.2" font-size="10" font-style="italic">K<tspan dx="-0.7" dy="2.2" font-size="6.5">y</tspan></text></g>
<text transform="translate(158.0,127.0) rotate(-90) scale(1,1.1)" font-size="10.4" font-style="italic">E</text>
<rect x="26.9" y="20.3" width="98.6" height="63.3" fill="#fff" stroke="#2a2a2a" stroke-width="0.8"/>
<path d="M26.90,83.6v2.6M33.47,83.6v1.4M40.05,83.6v1.4M46.62,83.6v1.4M53.19,83.6v1.4M59.77,83.6v2.6M66.34,83.6v1.4M72.91,83.6v1.4M79.49,83.6v1.4M86.06,83.6v1.4M92.63,83.6v2.6M99.21,83.6v1.4M105.78,83.6v1.4M112.35,83.6v1.4M118.93,83.6v1.4M125.50,83.6v2.6M26.9,83.60h-2.0M26.9,82.33h-1.2M26.9,81.07h-1.2M26.9,79.80h-1.2M26.9,78.54h-1.2M26.9,77.27h-1.2M26.9,76.00h-1.2M26.9,74.74h-1.2M26.9,73.47h-1.2M26.9,72.21h-1.2M26.9,70.94h-2.0M26.9,69.67h-1.2M26.9,68.41h-1.2M26.9,67.14h-1.2M26.9,65.88h-1.2M26.9,64.61h-1.2M26.9,63.34h-1.2M26.9,62.08h-1.2M26.9,60.81h-1.2M26.9,59.55h-1.2M26.9,58.28h-2.0M26.9,57.01h-1.2M26.9,55.75h-1.2M26.9,54.48h-1.2M26.9,53.22h-1.2M26.9,51.95h-1.2M26.9,50.68h-1.2M26.9,49.42h-1.2M26.9,48.15h-1.2M26.9,46.89h-1.2M26.9,45.62h-2.0M26.9,44.35h-1.2M26.9,43.09h-1.2M26.9,41.82h-1.2M26.9,40.56h-1.2M26.9,39.29h-1.2M26.9,38.02h-1.2M26.9,36.76h-1.2M26.9,35.49h-1.2M26.9,34.23h-1.2M26.9,32.96h-2.0M26.9,31.69h-1.2M26.9,30.43h-1.2M26.9,29.16h-1.2M26.9,27.90h-1.2M26.9,26.63h-1.2M26.9,25.36h-1.2M26.9,24.10h-1.2M26.9,22.83h-1.2M26.9,21.57h-1.2M26.9,20.30h-2.0" stroke="#2a2a2a" stroke-width="0.6" fill="none"/>
<g transform="translate(0,93.9) scale(1,1.0) translate(0,-93.9)"><text class="vs100" x="26.90" y="93.9" font-size="7.6" text-anchor="middle">22</text></g>
<g transform="translate(0,93.9) scale(1,1.0) translate(0,-93.9)"><text class="vs100" x="59.77" y="93.9" font-size="7.6" text-anchor="middle">23</text></g>
<g transform="translate(0,93.9) scale(1,1.0) translate(0,-93.9)"><text class="vs100" x="92.63" y="93.9" font-size="7.6" text-anchor="middle">24</text></g>
<g transform="translate(0,93.9) scale(1,1.0) translate(0,-93.9)"><text class="vs100" x="125.50" y="93.9" font-size="7.6" text-anchor="middle">25</text></g>
<g transform="translate(0,85.6) scale(1,1.0) translate(0,-85.6)"><text class="vs100" x="23.5" y="85.60" font-size="7.6" text-anchor="end">0.10</text></g>
<g transform="translate(0,72.94) scale(1,1.0) translate(0,-72.94)"><text class="vs100" x="23.5" y="72.94" font-size="7.6" text-anchor="end">0.11</text></g>
<g transform="translate(0,60.28) scale(1,1.0) translate(0,-60.28)"><text class="vs100" x="23.5" y="60.28" font-size="7.6" text-anchor="end">0.12</text></g>
<g transform="translate(0,47.62) scale(1,1.0) translate(0,-47.62)"><text class="vs100" x="23.5" y="47.62" font-size="7.6" text-anchor="end">0.13</text></g>
<g transform="translate(0,34.96) scale(1,1.0) translate(0,-34.96)"><text class="vs100" x="23.5" y="34.96" font-size="7.6" text-anchor="end">0.14</text></g>
<g transform="translate(0,22.3) scale(1,1.0) translate(0,-22.3)"><text class="vs100" x="23.5" y="22.30" font-size="7.6" text-anchor="end">0.15</text></g>
<g transform="translate(0,99.0) scale(1,1.1) translate(0,-99.0)"><text x="72.8" y="99.0" font-size="8.0" font-style="italic">K<tspan dy="2.0" font-size="5.2">y</tspan></text></g>
<text transform="translate(5.0,54.6) rotate(-90) scale(1,1.1)" font-size="8.0" font-style="italic">E</text>
<rect x="103.20" y="27.80" width="14.6" height="1.0" fill="#1f77b4" opacity="0.9"/>
<rect x="36.03" y="64.00" width="14.6" height="1.0" fill="#1f77b4" opacity="0.9"/>
<rect x="68.90" y="65.20" width="14.6" height="2.0" fill="#1f77b4" opacity="0.5"/>
<rect x="68.90" y="67.00" width="14.6" height="1.0" fill="#1f77b4" opacity="0.8"/>
<rect x="103.60" y="65.85" width="14.6" height="3.1" fill="#1f77b4" opacity="1.0"/>
<rect x="103.60" y="69.85" width="14.6" height="0.9" fill="#1f77b4" opacity="0.95"/>
<g transform="translate(0,34.3) scale(1,1.1) translate(0,-34.3)"><text x="110.40" y="34.30" font-size="5.0" text-anchor="middle" fill="#000">0.967</text></g>
<g transform="translate(0,63.2) scale(1,1.1) translate(0,-63.2)"><text x="43.33" y="63.20" font-size="5.0" text-anchor="middle" fill="#000">0.977</text></g>
<g transform="translate(0,64.4) scale(1,1.1) translate(0,-64.4)"><text x="76.20" y="64.40" font-size="5.0" text-anchor="middle" fill="#000">0.968</text></g>
<g transform="translate(0,72.8) scale(1,1.1) translate(0,-72.8)"><text x="76.20" y="72.80" font-size="5.0" text-anchor="middle" fill="#000">0.974</text></g>
<g transform="translate(0,63.4) scale(1,1.1) translate(0,-63.4)"><text x="94.90" y="63.40" font-size="5.0" text-anchor="middle" fill="#000">0.969</text></g>
<g transform="translate(0,68.1) scale(1,1.1) translate(0,-68.1)"><text x="94.90" y="68.10" font-size="5.0" text-anchor="middle" fill="#000">0.974</text></g>
<g transform="translate(0,72.9) scale(1,1.1) translate(0,-72.9)"><text x="94.90" y="72.90" font-size="5.0" text-anchor="middle" fill="#000">0.973</text></g>
<g transform="translate(0,77.2) scale(1,1.1) translate(0,-77.2)"><text x="94.90" y="77.20" font-size="5.0" text-anchor="middle" fill="#000">0.973</text></g>
<path d="M101.6,60.4L103.6,65.6M101.6,76.2L103.6,70.6" stroke="#333" stroke-width="0.4" fill="none"/>
<g transform="translate(0,17.2) scale(1,1.1) translate(0,-17.2)"><text x="33.3" y="17.2" font-size="6.9"><tspan font-style="italic">P</tspan><tspan dy="1.6" font-size="4.1" font-style="italic">μ</tspan><tspan dy="-1.6"> = 0</tspan></text></g>
<g transform="translate(0,17.2) scale(1,1.1) translate(0,-17.2)"><text x="66.6" y="17.2" font-size="6.9"><tspan font-style="italic">P</tspan><tspan dy="1.6" font-size="4.1" font-style="italic">ν</tspan><tspan dy="-1.6"> = 1</tspan></text></g>
<g transform="translate(0,17.2) scale(1,1.1) translate(0,-17.2)"><text x="100.8" y="17.2" font-size="6.9"><tspan font-style="italic">P</tspan><tspan dy="1.6" font-size="4.1" font-style="italic">ν</tspan><tspan dy="-1.6"> = 2</tspan></text></g>
<g transform="translate(0,112.6) scale(1,1.1) translate(0,-112.6)"><text font-size="7" text-anchor="middle" x="77.1" y="112.6">Overlap with MPS</text></g>
<g transform="translate(0,120.7) scale(1,1.1) translate(0,-120.7)"><text font-size="7" text-anchor="middle" x="76.5" y="120.7">of boundary (2, 2)</text></g>
<g transform="translate(0,129.0) scale(1,1.1) translate(0,-129.0)"><text font-size="7" y="129.0"><tspan x="47.7">at level</tspan><tspan x="72.0" font-style="italic">P</tspan><tspan dy="2.1" font-size="4.6" font-style="italic">η̄</tspan><tspan x="82.2" dy="-2.1">=</tspan><tspan x="88.3">0,</tspan><tspan x="97.6" font-style="italic">P</tspan><tspan dy="2.1" font-size="4.6" font-style="italic">ν</tspan></text></g>
<rect x="535.4" y="58.6" width="121.0" height="77.6" fill="#fff" stroke="#2a2a2a" stroke-width="0.8"/>
<path d="M535.40,136.2v2.6M565.65,136.2v2.6M595.90,136.2v2.6M626.15,136.2v2.6M656.40,136.2v2.6M656.4,58.60h2.2M656.4,68.55h1.2M656.4,78.50h2.2M656.4,88.45h1.2M656.4,98.40h2.2M656.4,108.35h1.2M656.4,118.30h2.2M656.4,128.25h1.2" stroke="#2a2a2a" stroke-width="0.6" fill="none"/>
<g transform="translate(0,147.0) scale(1,1.0) translate(0,-147.0)"><text class="vs100" x="535.40" y="147.0" font-size="7.1" text-anchor="middle">37</text></g>
<g transform="translate(0,147.0) scale(1,1.0) translate(0,-147.0)"><text class="vs100" x="565.65" y="147.0" font-size="7.1" text-anchor="middle">38</text></g>
<g transform="translate(0,147.0) scale(1,1.0) translate(0,-147.0)"><text class="vs100" x="595.90" y="147.0" font-size="7.1" text-anchor="middle">39</text></g>
<g transform="translate(0,147.0) scale(1,1.0) translate(0,-147.0)"><text class="vs100" x="626.15" y="147.0" font-size="7.1" text-anchor="middle">40</text></g>
<g transform="translate(0,147.0) scale(1,1.0) translate(0,-147.0)"><text class="vs100" x="656.40" y="147.0" font-size="7.1" text-anchor="middle">41</text></g>
<g transform="translate(0,61.1) scale(1,1.1) translate(0,-61.1)"><text x="661.0" y="61.10" font-size="6.7">0.04</text></g>
<g transform="translate(0,81.0) scale(1,1.1) translate(0,-81.0)"><text x="661.0" y="81.00" font-size="6.7">0.03</text></g>
<g transform="translate(0,100.9) scale(1,1.1) translate(0,-100.9)"><text x="661.0" y="100.90" font-size="6.7">0.02</text></g>
<g transform="translate(0,120.8) scale(1,1.1) translate(0,-120.8)"><text x="661.0" y="120.80" font-size="6.7">0.01</text></g>
<g transform="translate(0,156.6) scale(1,1.1) translate(0,-156.6)"><text x="592.4" y="156.6" font-size="7.6" font-style="italic">K<tspan dy="1.8" font-size="4.8">y</tspan></text></g>
<text transform="translate(684.2,100.8) rotate(-90) scale(1,1.1)" font-size="7.2" font-style="italic">E</text>
<rect x="571.57" y="76.80" width="18.4" height="1.0" fill="#1f77b4" opacity="0.95"/>
<rect x="601.82" y="84.00" width="18.4" height="1.0" fill="#1f77b4" opacity="0.95"/>
<rect x="632.07" y="94.70" width="18.4" height="1.0" fill="#1f77b4" opacity="0.95"/>
<rect x="541.32" y="116.50" width="18.4" height="1.0" fill="#1f77b4" opacity="0.95"/>
<rect x="571.57" y="122.60" width="18.4" height="1.0" fill="#1f77b4" opacity="0.95"/>
<rect x="541.32" y="131.90" width="18.4" height="1.0" fill="#1f77b4" opacity="0.95"/>
<path d="M611.02,82.60L611.02,86.90M611.02,82.60L614.47,80.45M611.02,82.60L607.58,80.45" stroke="#ff7f0e" stroke-width="1.05" fill="none" opacity="1.0"/>
<path d="M641.27,94.10L641.27,98.40M641.27,94.10L644.72,91.95M641.27,94.10L637.83,91.95" stroke="#ff7f0e" stroke-width="1.05" fill="none" opacity="1.0"/>
<path d="M641.27,93.70L641.27,89.10M641.27,93.70L644.95,96.00M641.27,93.70L637.60,96.00" stroke="#2ca02c" stroke-width="1.0" fill="none" opacity="1.0"/>
<path d="M580.77,122.30L580.77,126.60M580.77,122.30L584.22,120.15M580.77,122.30L577.33,120.15" stroke="#ff7f0e" stroke-width="1.05" fill="none" opacity="1.0"/>
<path d="M550.52,131.60L550.52,135.90M550.52,131.60L553.97,129.45M550.52,131.60L547.08,129.45" stroke="#ff7f0e" stroke-width="1.05" fill="none" opacity="1.0"/>
<g transform="translate(0,74.6) scale(1,1.1) translate(0,-74.6)"><text x="580.77" y="74.60" font-size="6.85" text-anchor="middle" fill="#000">0.991</text></g>
<g transform="translate(0,79.7) scale(1,1.1) translate(0,-79.7)"><text x="611.02" y="79.70" font-size="6.85" text-anchor="middle" fill="#000">0.996</text></g>
<g transform="translate(0,86.6) scale(1,1.1) translate(0,-86.6)"><text x="641.27" y="86.60" font-size="6.85" text-anchor="middle" fill="#000">0.998</text></g>
<g transform="translate(0,114.2) scale(1,1.1) translate(0,-114.2)"><text x="550.52" y="114.20" font-size="6.85" text-anchor="middle" fill="#000">0.980</text></g>
<g transform="translate(0,117.8) scale(1,1.1) translate(0,-117.8)"><text x="580.77" y="117.80" font-size="6.85" text-anchor="middle" fill="#000">0.993</text></g>
<g transform="translate(0,128.7) scale(1,1.1) translate(0,-128.7)"><text x="550.52" y="128.70" font-size="6.85" text-anchor="middle" fill="#000">0.995</text></g>
<g transform="translate(0,54.5) scale(1,1.1) translate(0,-54.5)"><text x="540.0" y="54.5" font-size="7.2"><tspan font-style="italic">P</tspan><tspan dy="-2.6" font-size="4.3" font-style="italic">L</tspan><tspan dx="-2.6" dy="4.4" font-size="4.3" font-style="italic">η</tspan><tspan dy="-1.8"> = 3</tspan></text></g>
<g transform="translate(0,54.5) scale(1,1.1) translate(0,-54.5)"><text x="570.1" y="54.5" font-size="7.2"><tspan font-style="italic">P</tspan><tspan dy="-2.6" font-size="4.3" font-style="italic">L</tspan><tspan dx="-2.6" dy="4.4" font-size="4.3" font-style="italic">η</tspan><tspan dy="-1.8"> = 2</tspan></text></g>
<g transform="translate(0,54.5) scale(1,1.1) translate(0,-54.5)"><text x="600.7" y="54.5" font-size="7.2"><tspan font-style="italic">P</tspan><tspan dy="-2.6" font-size="4.3" font-style="italic">L</tspan><tspan dx="-2.6" dy="4.4" font-size="4.3" font-style="italic">η</tspan><tspan dy="-1.8"> = 1</tspan></text></g>
<g transform="translate(0,54.5) scale(1,1.1) translate(0,-54.5)"><text x="630.4" y="54.5" font-size="7.2"><tspan font-style="italic">P</tspan><tspan dy="-2.6" font-size="4.3" font-style="italic">L</tspan><tspan dx="-2.6" dy="4.4" font-size="4.3" font-style="italic">η</tspan><tspan dy="-1.8"> = 0</tspan></text></g>
<g transform="translate(0,169.4) scale(1,1.1) translate(0,-169.4)"><text font-size="7" text-anchor="middle" x="595.5" y="169.4">Overlap with MPS</text></g>
<g transform="translate(0,177.6) scale(1,1.1) translate(0,-177.6)"><text font-size="7" text-anchor="middle" x="594.6" y="177.6" letter-spacing="0.08">of boundary (0, 0)</text></g>
<g transform="translate(0,185.6) scale(1,1.1) translate(0,-185.6)"><text font-size="7" y="185.6"><tspan x="557.8">at level</tspan><tspan x="582.4" font-style="italic">P</tspan><tspan dx="0" dy="2.0" font-size="4.6" font-style="italic">μ</tspan><tspan x="593.3" dy="-2.0">=</tspan><tspan x="598.9" font-style="italic">P</tspan><tspan dx="0.2" dy="-2.8" font-size="4.6">⊥</tspan><tspan dx="-3.0" dy="4.6" font-size="4.6" font-style="italic">η</tspan><tspan x="609.1" dy="-1.8">=</tspan><tspan x="614.8">0,</tspan><tspan x="623.1" font-style="italic">P</tspan><tspan dx="0.3" dy="-2.8" font-size="4.6" font-style="italic">L</tspan><tspan dx="-2.6" dy="4.6" font-size="4.6" font-style="italic">η</tspan></text></g>
<g transform="translate(0,68.2) scale(1,1.1) translate(0,-68.2)"><text x="194.4" y="68.2" font-size="6.92" fill="#000">(2, 2)<tspan dy="-2.4" font-size="4.7">0</tspan><tspan dy="2.4"> : 0.977</tspan></text></g>
<g transform="translate(0,72.0) scale(1,1.1) translate(0,-72.0)"><text x="259.8" y="72.0" font-size="6.92" fill="#000">(2, −4)<tspan dy="-2.4" font-size="4.7">2</tspan><tspan dy="2.4"> : 0.970</tspan></text></g>
<g transform="translate(0,52.8) scale(1,1.1) translate(0,-52.8)"><text x="317.2" y="52.8" font-size="6.92" fill="#000">(1, 1)<tspan dy="-2.4" font-size="4.7">0</tspan><tspan dy="2.4"> : 0.990</tspan></text></g>
<g transform="translate(0,81.3) scale(1,1.1) translate(0,-81.3)"><text x="340.0" y="81.3" font-size="6.92" fill="#000">(1, −2)<tspan dy="-2.4" font-size="4.7">1</tspan><tspan dy="2.4"> : 0.983</tspan></text></g>
<g transform="translate(0,107.6) scale(1,1.1) translate(0,-107.6)"><text x="193.9" y="107.6" font-size="6.92" fill="#000">(2, −1)<tspan dy="-2.4" font-size="4.7">0</tspan><tspan dy="2.4"> : 0.999</tspan></text></g>
<g transform="translate(0,126.1) scale(1,1.1) translate(0,-126.1)"><text x="259.8" y="126.1" font-size="6.92" fill="#000">(2, −4)<tspan dy="-2.4" font-size="4.7">1</tspan><tspan dy="2.4"> : 0.996</tspan></text></g>
<g transform="translate(0,58.8) scale(1,1.1) translate(0,-58.8)"><text x="437.9" y="58.8" font-size="6.92" fill="#000">(0, 0)<tspan dy="-2.4" font-size="4.7">0</tspan><tspan dy="2.4"> : 0.998</tspan></text></g>
<g transform="translate(0,167.6) scale(1,1.1) translate(0,-167.6)"><text x="394.4" y="167.6" font-size="6.92" fill="#000">(1, −2)<tspan dy="-2.4" font-size="4.7">0</tspan><tspan dy="2.4"> : 1.000</tspan></text></g>
<g transform="translate(0,212.0) scale(1,1.1) translate(0,-212.0)"><text x="315.2" y="212.0" font-size="6.92" fill="#000">(2, −4)<tspan dy="-2.4" font-size="4.7">0</tspan><tspan dy="2.4"> : 1.000</tspan></text></g>
<path d="M215.70,63.20L215.70,56.90" stroke="#111" stroke-width="0.75" fill="none"/><polygon points="215.70,52.90 217.25,56.90 214.15,56.90" fill="#111"/>
<path d="M265.60,66.00L258.19,51.18" stroke="#111" stroke-width="0.75" fill="none"/><polygon points="256.40,47.60 259.58,50.48 256.80,51.87" fill="#111"/>
<path d="M337.60,54.60L337.60,58.20" stroke="#111" stroke-width="0.75" fill="none"/><polygon points="337.60,62.20 336.05,58.20 339.15,58.20" fill="#111"/>
<path d="M364.70,74.80L364.70,69.20" stroke="#111" stroke-width="0.75" fill="none"/><polygon points="364.70,65.20 366.25,69.20 363.15,69.20" fill="#111"/>
<path d="M242.50,105.40L246.90,105.40" stroke="#111" stroke-width="0.75" fill="none"/><polygon points="250.90,105.40 246.90,106.95 246.90,103.85" fill="#111"/>
<path d="M283.60,119.20L283.60,111.30" stroke="#111" stroke-width="0.75" fill="none"/><polygon points="283.60,107.30 285.15,111.30 282.05,111.30" fill="#111"/>
<path d="M459.20,60.30L459.20,76.20" stroke="#111" stroke-width="0.75" fill="none"/><polygon points="459.20,80.20 457.65,76.20 460.75,76.20" fill="#111"/>
<path d="M401.00,161.40L382.66,140.79" stroke="#111" stroke-width="0.75" fill="none"/><polygon points="380.00,137.80 383.82,139.76 381.50,141.82" fill="#111"/>
<path d="M312.80,209.50L306.80,209.50" stroke="#111" stroke-width="0.75" fill="none"/><polygon points="302.80,209.50 306.80,207.95 306.80,211.05" fill="#111"/>
<rect x="205.4" y="168.5" width="60.8" height="37.3" rx="1.6" fill="#fff" fill-opacity="0.8" stroke="#ccc" stroke-width="0.8"/>
<rect x="212.80" y="174.80" width="8.8" height="1.0" fill="#1f77b4" opacity="0.9"/>
<path d="M217.30,187.00L217.30,190.60M217.30,187.00L220.18,185.20M217.30,187.00L214.42,185.20" stroke="#ff7f0e" stroke-width="1.05" fill="none" opacity="1.0"/>
<path d="M217.30,199.40L217.30,195.80M217.30,199.40L220.18,201.20M217.30,199.40L214.42,201.20" stroke="#2ca02c" stroke-width="1.0" fill="none" opacity="1.0"/>
<g transform="translate(0,177.9) scale(1,1.1) translate(0,-177.9)"><text x="228.2" y="177.9" font-size="9"><tspan font-style="italic">N</tspan><tspan dx="0.9" dy="-3.7" font-size="5.2" font-style="italic">L</tspan><tspan dx="-3.7" dy="5.5" font-size="5.5">orb</tspan><tspan dy="-1.8"> = 9</tspan></text></g>
<g transform="translate(0,189.6) scale(1,1.1) translate(0,-189.6)"><text x="228.2" y="189.6" font-size="9"><tspan font-style="italic">N</tspan><tspan dx="0.9" dy="-3.7" font-size="5.2" font-style="italic">L</tspan><tspan dx="-3.7" dy="5.5" font-size="5.5">orb</tspan><tspan dy="-1.8"> = 8</tspan></text></g>
<g transform="translate(0,201.4) scale(1,1.1) translate(0,-201.4)"><text x="228.2" y="201.4" font-size="9"><tspan font-style="italic">N</tspan><tspan dx="0.9" dy="-3.7" font-size="5.2" font-style="italic">L</tspan><tspan dx="-3.7" dy="5.5" font-size="5.5">orb</tspan><tspan dy="-1.8"> = 7</tspan></text></g>
<g transform="translate(0,20.8) scale(1,1.1) translate(0,-20.8)"><text x="142.5" y="20.8" font-size="9.8">Overlap O with MPS of boundary (</text></g>
<g transform="translate(0,20.8) scale(1,1.1) translate(0,-20.8)"><text x="292.0" y="20.8" font-size="9.8"><tspan font-style="italic" dy="0">n</tspan><tspan dx="0" dy="2.9" font-size="6.0" font-style="italic">L</tspan><tspan dy="-2.9">, </tspan><tspan font-style="italic" dy="0">n</tspan><tspan dx="0" dy="2.9" font-size="6.0">⊥</tspan><tspan dy="-2.9">)</tspan></text></g>
<g transform="translate(0,20.8) scale(1,1.1) translate(0,-20.8)"><text x="322.3" y="20.8" font-size="9.8">at level</text></g>
<g transform="translate(0,20.8) scale(1,1.1) translate(0,-20.8)"><text x="356.2" y="20.8" font-size="9.8"><tspan font-style="italic" dy="0">P</tspan><tspan dx="0" dy="2.9" font-size="6.0" font-style="italic">μ</tspan></text></g>
<g transform="translate(0,20.8) scale(1,1.1) translate(0,-20.8)"><text x="368.4" y="20.8" font-size="9.8">=</text></g>
<g transform="translate(0,20.8) scale(1,1.1) translate(0,-20.8)"><text x="377.6" y="20.8" font-size="9.8"><tspan font-style="italic" dy="0">P</tspan><tspan dx="0.7" dy="-3.3" font-size="6.8" font-style="italic">L</tspan><tspan dx="-3.9" dy="5.5" font-size="5.6" font-style="italic">η</tspan></text></g>
<g transform="translate(0,20.8) scale(1,1.1) translate(0,-20.8)"><text x="391.4" y="20.8" font-size="9.8">= 0,</text></g>
<g transform="translate(0,20.8) scale(1,1.1) translate(0,-20.8)"><text x="410.8" y="20.8" font-size="9.8"><tspan font-style="italic" dy="0">P</tspan><tspan dx="0.7" dy="-3.3" font-size="6.4">⊥</tspan><tspan dx="-4.2" dy="5.5" font-size="5.6" font-style="italic">η</tspan></text></g>
<g transform="translate(0,20.8) scale(1,1.1) translate(0,-20.8)"><text x="439.6" y="20.8" font-size="9.8">(<tspan font-style="italic" dy="0">n</tspan><tspan dx="0" dy="2.9" font-size="6.0" font-style="italic">L</tspan><tspan dy="-2.9">, </tspan><tspan font-style="italic" dy="0">n</tspan><tspan dx="0" dy="2.9" font-size="6.0">⊥</tspan><tspan dy="-2.9">)</tspan></text></g>
<g transform="translate(0,17.6) scale(1,1.1) translate(0,-17.6)"><text x="471.8" y="17.6" font-size="7.8"><tspan font-style="italic" dy="0">P</tspan><tspan dx="0.2" dy="-2.4" font-size="4.4">⊥</tspan><tspan dx="-3.0" dy="3.8" font-size="4.4" font-style="italic">η</tspan></text></g>
<g transform="translate(0,20.8) scale(1,1.1) translate(0,-20.8)"><text x="484.2" y="20.8" font-size="9.8">:</text></g>
<g transform="translate(0,20.8) scale(1,1.1) translate(0,-20.8)"><text x="490.2" y="20.8" font-size="9.8" font-style="italic">O</text></g>
<g transform="translate(0,10.3) scale(1,1.1) translate(0,-10.3)"><text x="0.3" y="10.3" font-size="13.3" font-weight="bold" fill="#000">a</text></g>
<g transform="translate(0,10.3) scale(1,1.1) translate(0,-10.3)"><text x="537.9" y="10.3" font-size="13.3" font-weight="bold" fill="#000">b</text></g>
</g>
</svg></body></html>
